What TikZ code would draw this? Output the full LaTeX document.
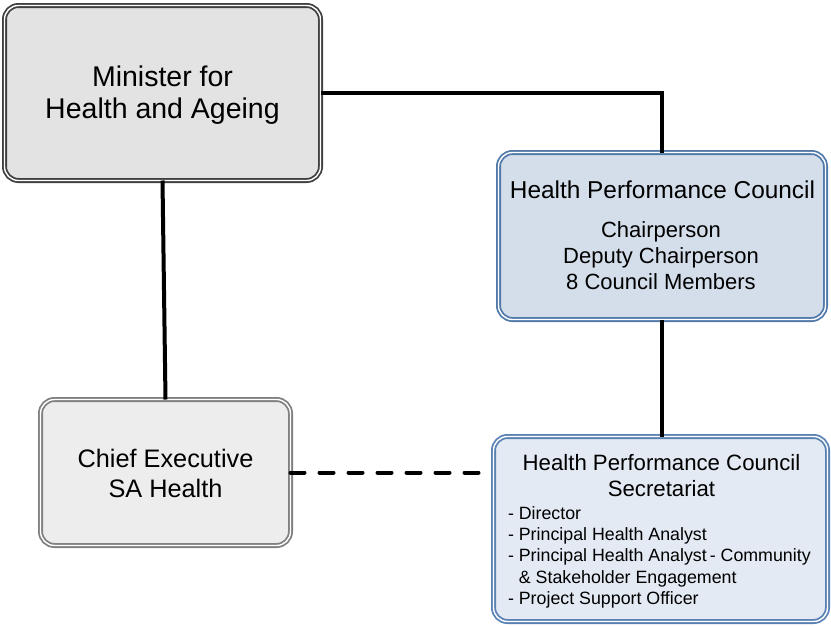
\documentclass[tikz,border=0pt]{standalone}
\usepackage{fontspec}
\setmainfont{Liberation Sans}
\begin{document}
\begin{tikzpicture}[x=1pt,y=-1pt,
  box/.style={rectangle, rounded corners=14pt, line width=1.8pt,
    double=white, double distance=1.4pt, outer sep=0pt, inner sep=0pt},
  graybox/.style={box, draw=black!75, fill=black!11},
  lightbox/.style={box, draw=black!50, fill=black!7},
  bluebox/.style={box, draw=blueline, fill=bluefill},
  paleblue/.style={box, draw=blueline2, fill=bluefill2},
  label/.style={inner sep=0pt, outer sep=0pt, align=center, text=black},
  link/.style={line width=4pt, black},
  dottedlink/.style={link, line cap=round, dash pattern=on 14pt off 15pt}
]
\definecolor{blueline}{HTML}{5179AA}
\definecolor{bluefill}{HTML}{D4DEEA}
\definecolor{blueline2}{HTML}{5B82B4}
\definecolor{bluefill2}{HTML}{E3EAF3}

\useasboundingbox (0,0) rectangle (831,625);

% boxes
\node[graybox, minimum width=316pt, minimum height=175pt] (min) at (162.5,93) {};
\node[bluebox, minimum width=327pt, minimum height=167pt] (hpc) at (662,236) {};
\node[paleblue, minimum width=334pt, minimum height=185pt] (sec) at (660.5,529) {};
\node[lightbox, minimum width=250pt, minimum height=146pt] (ce) at (165.5,472.5) {};

% connectors
\draw[link] (min.east) -| (hpc.north);
\draw[link] (min.south) -- (ce.north);
\draw[link] (hpc.south) -- (hpc.south |- sec.north);
\draw[dottedlink] (ce.east) -- (ce.east -| sec.west);

% texts
\node[label, font=\fontsize{28.5}{31.5}\selectfont] (mintext) at (162.5,95)
  {Minister for\\Health and Ageing};
\node[label, font=\fontsize{25.3}{30}\selectfont] (cetext) at (165.5,473)
  {Chief Executive\\SA Health};
\node[label, font=\fontsize{24.4}{28}\selectfont] (hpctitle) at (662.5,190)
  {Health Performance Council};
\node[label, font=\fontsize{22}{26}\selectfont] (hpcmembers) at (661,256)
  {Chairperson\\Deputy Chairperson\\8 Council Members};
\node[label, font=\fontsize{22.2}{26}\selectfont] (sectitle) at (661.5,476)
  {Health Performance Council\\Secretariat};
\node[label, anchor=west, align=left, font=\fontsize{17.8}{21.25}\selectfont] (seclist) at (508,557.3)
  {- Director\\
   - Principal Health Analyst\\
   - Principal Health Analyst\,- Community\\
   \phantom{- }\& Stakeholder Engagement\\
   - Project Support Officer};
\end{tikzpicture}
\end{document}
